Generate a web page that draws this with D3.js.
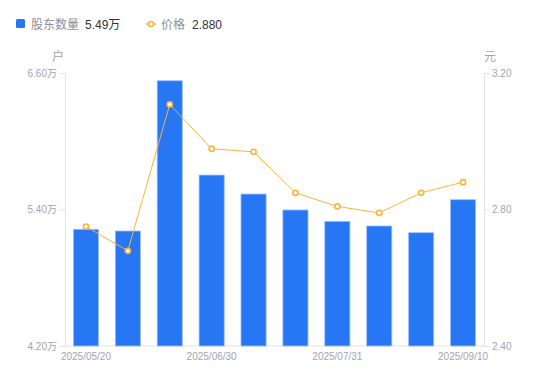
<!DOCTYPE html>
<html><head><meta charset="utf-8">
<script src="https://cdn.jsdelivr.net/npm/d3@7"></script>
<style>body{margin:0;background:#fff;}svg{display:block;font-family:"Noto Sans CJK SC","Noto Sans",sans-serif;}</style>
</head><body><svg id="c" width="550" height="381"></svg>
<script>
const dates = ["2025/05/20","2025/05/31","2025/06/20","2025/06/30","2025/07/10","2025/07/20","2025/07/31","2025/08/20","2025/08/31","2025/09/10"];
const holders = [5.226, 5.211, 6.532, 5.703, 5.536, 5.396, 5.296, 5.255, 5.196, 5.486];
const prices = [2.750, 2.679, 3.108, 2.978, 2.969, 2.849, 2.809, 2.790, 2.849, 2.880];
const leftTicks = [4.20, 5.40, 6.60];
const rightTicks = [2.40, 2.80, 3.20];
const xLabelIdx = [0, 3, 6, 9];

const svg = d3.select("#c");
const L = 65, R = 484, T = 73, B = 346;
const x = d3.scaleBand().domain(dates).range([L, R]).paddingInner(0.4).paddingOuter(0.2);
const yL = d3.scaleLinear().domain([4.2, 6.6]).range([B, T]);
const yR = d3.scaleLinear().domain([2.4, 3.2]).range([B, T]);
const axisCol = "#e3e3e8", tickText = "#a3a3b3";
const latin = "'Liberation Sans', Arial, sans-serif";

// axes
const gl = svg.append("g").attr("transform", `translate(${L},0)`)
  .call(d3.axisLeft(yL).tickValues(leftTicks).tickSize(6).tickPadding(2).tickFormat(d => d.toFixed(2)));
const gr = svg.append("g").attr("transform", `translate(${R},0)`)
  .call(d3.axisRight(yR).tickValues(rightTicks).tickSize(6).tickPadding(2).tickFormat(d => d.toFixed(2)));
const gb = svg.append("g").attr("transform", `translate(0,${B})`)
  .call(d3.axisBottom(x).tickValues(xLabelIdx.map(i => dates[i])).tickSize(0).tickPadding(7));
[gl, gr, gb].forEach(g => {
  g.selectAll(".domain").attr("stroke", axisCol);
  g.selectAll(".tick line").attr("stroke", axisCol);
  g.selectAll("text").attr("fill", tickText).style("font-family", latin).style("font-size", "10px");
});
gl.selectAll(".tick text").append("tspan").style("font-family", "'Noto Sans CJK SC', sans-serif").text("万");
gb.select(".domain").attr("d", `M${L},0H${R}`);

// units
svg.append("text").attr("x", 58).attr("y", 61).attr("text-anchor", "middle").attr("fill", tickText).style("font-size", "12px").text("户");
svg.append("text").attr("x", 490).attr("y", 61).attr("text-anchor", "middle").attr("fill", tickText).style("font-size", "12px").text("元");

// bars
svg.append("g").selectAll("rect").data(holders).join("rect")
  .attr("x", (d, i) => x(dates[i]))
  .attr("width", x.bandwidth())
  .attr("y", d => yL(d))
  .attr("height", d => B - yL(d))
  .attr("fill", "#2777f5")
  .attr("stroke", "#9cc0fa").attr("stroke-width", 0.8);

// line
const line = d3.line().x((d, i) => x(dates[i]) + x.bandwidth() / 2).y(d => yR(d));
svg.append("path").datum(prices).attr("d", line).attr("fill", "none").attr("stroke", "#fbb33a").attr("stroke-width", 1);
svg.append("g").selectAll("circle").data(prices).join("circle")
  .attr("cx", (d, i) => x(dates[i]) + x.bandwidth() / 2)
  .attr("cy", d => yR(d)).attr("r", 2.6)
  .attr("fill", "#fff").attr("stroke", "#fbb33a").attr("stroke-width", 1.6);

// legend
const lg = svg.append("g").style("font-size", "12px");
lg.append("rect").attr("x", 16).attr("y", 19).attr("width", 9).attr("height", 9).attr("rx", 1.5).attr("fill", "#2777f5");
lg.append("text").attr("x", 31).attr("y", 28.5).attr("fill", "#8e8e9a").text("股东数量");
lg.append("text").attr("x", 85).attr("y", 28.5).attr("fill", "#333").style("font-family", latin).text("5.49").append("tspan").style("font-family", "'Noto Sans CJK SC', sans-serif").text("万");
lg.append("line").attr("x1", 146).attr("x2", 156).attr("y1", 24).attr("y2", 24).attr("stroke", "#fbb33a").attr("stroke-width", 1.5);
lg.append("circle").attr("cx", 151).attr("cy", 24).attr("r", 2.5).attr("fill", "#fff").attr("stroke", "#fbb33a").attr("stroke-width", 1.5);
lg.append("text").attr("x", 161).attr("y", 28.5).attr("fill", "#8e8e9a").text("价格");
lg.append("text").attr("x", 192).attr("y", 28.5).attr("fill", "#333").style("font-family", latin).text("2.880");
</script></body></html>
